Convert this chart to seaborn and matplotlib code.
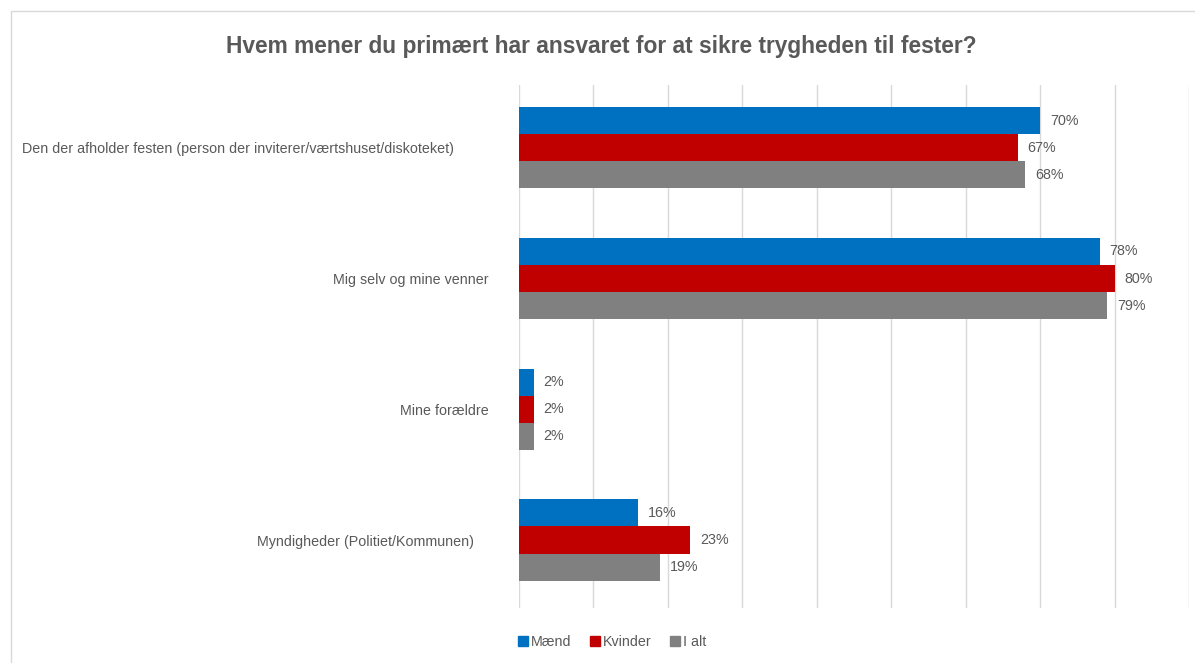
import pandas as pd
import matplotlib.pyplot as plt
import matplotlib.transforms as mtransforms
from matplotlib.patches import Rectangle
import seaborn as sns

# data
kategorier = [
    'Den der afholder festen (person der inviterer/værtshuset/diskoteket)',
    'Mig selv og mine venner',
    'Mine forældre',
    'Myndigheder (Politiet/Kommunen)',
]
grupper = ['Mænd', 'Kvinder', 'I alt']
maend = [0.70, 0.78, 0.02, 0.16]
kvinder = [0.67, 0.80, 0.02, 0.23]
i_alt = [0.68, 0.79, 0.02, 0.19]
farver = ['#0070C0', '#C00000', '#808080']

sns.set_style('white')
plt.rcParams['font.family'] = ['Liberation Sans', 'DejaVu Sans']

tekst = '#595959'

df = pd.DataFrame({
    'kategori': kategorier * 3,
    'gruppe': [g for g in grupper for _ in kategorier],
    'andel': maend + kvinder + i_alt,
})

fig = plt.figure(figsize=(11.95, 6.63), dpi=100)
ax = fig.add_axes([519 / 1195, 1 - 608 / 663, 670 / 1195, 523 / 663])

sns.barplot(data=df, y='kategori', x='andel', hue='gruppe', orient='h',
            palette=farver, saturation=1, width=0.62, linewidth=0,
            ax=ax, legend=False)

ax.set_xlim(0, 0.9)
ax.set_ylim(3.52, -0.48)
ax.set_xticks([i / 10 for i in range(10)])
ax.set_xticklabels([])
ax.tick_params(length=0)
ax.grid(axis='x', color='#D9D9D9', lw=1)
ax.grid(axis='y', visible=False)
ax.set_axisbelow(True)
for s in ax.spines.values():
    s.set_visible(False)
ax.set_xlabel('')
ax.set_ylabel('')

for c in ax.containers:
    ax.bar_label(c, labels=[f'{v * 100:.0f}%' for v in c.datavalues],
                 padding=7, fontsize=10.3, color=tekst)

# category labels, shifted a bit like in the original
ax.tick_params(axis='y', pad=22)
forskyd = [-34, 0, 0, -14]
for lab, dx in zip(ax.get_yticklabels(), forskyd):
    lab.set_fontsize(10.3)
    lab.set_color(tekst)
    lab.set_transform(lab.get_transform() +
                      mtransforms.ScaledTranslation(dx / 100, 0, fig.dpi_scale_trans))

fig.text(601 / 1195, 1 - 47 / 663,
         'Hvem mener du primært har ansvaret for at sikre trygheden til fester?',
         ha='center', va='center', fontsize=16.4, fontweight='bold', color=tekst)

handles = [Rectangle((0, 0), 1, 1, color=f) for f in farver]
fig.legend(handles, grupper, loc='center', bbox_to_anchor=(612 / 1195, 1 - 642 / 663),
           ncol=3, frameon=False, fontsize=10.3, labelcolor=tekst,
           handlelength=0.7, handleheight=0.7, handletextpad=0.2, columnspacing=1.3)

# frame of the chart area
fig.patches.append(Rectangle((11 / 1195, -0.1), 1.2, 1 - 11 / 663 + 0.1,
                             transform=fig.transFigure, fill=False,
                             edgecolor='#D9D9D9', lw=1))

fig.savefig('out.png', dpi=100)
